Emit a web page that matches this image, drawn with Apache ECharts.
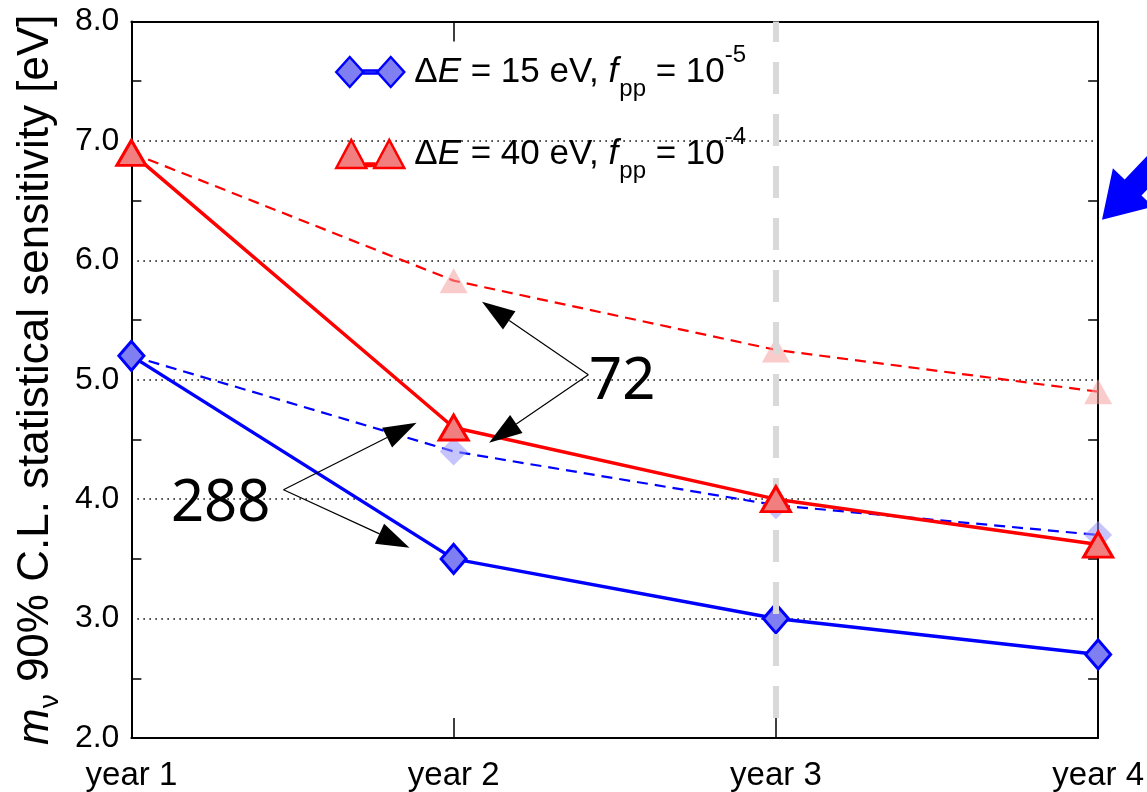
<!DOCTYPE html>
<html>
<head>
<meta charset="utf-8">
<script src="https://cdn.jsdelivr.net/npm/echarts@6/dist/echarts.min.js"></script>
<style>
  html, body { margin: 0; padding: 0; background: #ffffff; }
  #chart { width: 1147px; height: 792px; }
</style>
</head>
<body>
<div id="chart"></div>
<script>
// Measuring periods and their tick labels
const years = [1, 2, 3, 4];
const yearLabels = ['year 1', 'year 2', 'year 3', 'year 4'];

// 90% C.L. sensitivity on m_nu [eV]
const sens15 = [5.2, 3.5, 3.0, 2.7];      // dE = 15 eV, f_pp = 1e-5
const sens40 = [6.9, 4.6, 4.0, 3.62];     // dE = 40 eV, f_pp = 1e-4
const sens15Ref = [5.2, 4.4, 3.95, 3.7];  // dashed comparison, 15 eV
const sens40Ref = [6.9, 5.83, 5.25, 4.9]; // dashed comparison, 40 eV

const seriesNames = ['dE15', 'dE40'];
const detectorCounts = ['288', '72'];

const FONT = '"Liberation Sans", Arial, sans-serif';
const pairs = vals => years.map((x, i) => [x, vals[i]]);

const chart = echarts.init(document.getElementById('chart'), null, { renderer: 'canvas' });

const legendText = {
  dE15: '{g|Δ}{i|E}{t| = 15 eV, }{i|f}{sub|pp}{t| = 10}{sup|-5}',
  dE40: '{g|Δ}{i|E}{t| = 40 eV, }{i|f}{sub|pp}{t| = 10}{sup|-4}'
};

const option = {
  animation: false,
  backgroundColor: '#ffffff',
  grid: { left: 130, right: 44, top: 21.5, bottom: 53.5, containLabel: false },
  legend: {
    orient: 'vertical',
    left: 335,
    top: 43,
    padding: 0,
    itemGap: 24,
    itemWidth: 68,
    itemHeight: 30,
    selectedMode: false,
    data: [
      {
        name: 'dE15',
        icon: 'path://M0,15 L13.5,0 L27,15 L13.5,30 Z M41,15 L54.5,0 L68,15 L54.5,30 Z M27,13.5 L41,13.5 L41,16.5 L27,16.5 Z',
        itemStyle: { color: '#7f7ff2', borderColor: '#0000ff', borderWidth: 2.5 }
      },
      {
        name: 'dE40',
        icon: 'path://M0,28 L15,0 L30,28 Z M38,28 L53,0 L68,28 Z M30,23.5 L38,23.5 L38,26 L30,26 Z',
        itemStyle: { color: '#f27f7f', borderColor: '#ff0000', borderWidth: 2.5 }
      }
    ],
    formatter: name => legendText[name],
    textStyle: {
      fontFamily: FONT,
      fontSize: 35,
      color: '#000',
      lineHeight: 58,
      padding: [0, 0, 0, 5],
      rich: {
        t: { fontFamily: FONT, fontSize: 35, color: '#000' },
        g: { fontFamily: FONT, fontSize: 35, color: '#000' },
        i: { fontFamily: FONT, fontSize: 35, fontStyle: 'italic', color: '#000' },
        sub: { fontFamily: FONT, fontSize: 24, color: '#000', verticalAlign: 'bottom', lineHeight: 58, padding: [0, 0, 0, 1] },
        sup: { fontFamily: FONT, fontSize: 24, color: '#000', verticalAlign: 'top', lineHeight: 58 }
      }
    }
  },
  xAxis: [
    {
      type: 'value', min: 1, max: 4, interval: 1, position: 'bottom',
      axisLine: { show: true, onZero: false, lineStyle: { color: '#000', width: 2 } },
      axisTick: { show: true, inside: true, length: 20, lineStyle: { color: '#000', width: 1.5 } },
      axisLabel: {
        formatter: v => yearLabels[years.indexOf(v)] || '',
        fontFamily: FONT, fontSize: 33, color: '#000', margin: 21
      },
      splitLine: { show: false }
    },
    {
      type: 'value', min: 1, max: 4, interval: 1, position: 'top',
      axisLine: { show: true, onZero: false, lineStyle: { color: '#000', width: 2 } },
      axisTick: { show: true, inside: true, length: 20, lineStyle: { color: '#000', width: 1.5 } },
      axisLabel: { show: false },
      splitLine: { show: false }
    }
  ],
  yAxis: [
    {
      type: 'value', min: 2, max: 8, interval: 1, position: 'left',
      axisLine: { show: true, onZero: false, lineStyle: { color: '#000', width: 2 } },
      axisTick: { show: false, inside: true },
      minorTick: { show: true, splitNumber: 2, length: 10, lineStyle: { color: '#000', width: 1.5 } },
      axisLabel: {
        formatter: v => v.toFixed(1),
        fontFamily: FONT, fontSize: 32, color: '#000', margin: 12
      },
      splitLine: { show: true, lineStyle: { color: '#000', width: 1.5, type: [1.5, 4.5] } },
      name: '{i|m}{sub|ν}{t| 90% C.L. statistical sensitivity [eV]}',
      nameLocation: 'middle',
      nameRotate: 90,
      nameGap: 62,
      nameTextStyle: {
        fontFamily: FONT, fontSize: 44, color: '#000', lineHeight: 54,
        rich: {
          t: { fontFamily: FONT, fontSize: 44, color: '#000' },
          i: { fontFamily: FONT, fontSize: 44, fontStyle: 'italic', color: '#000' },
          sub: { fontFamily: FONT, fontSize: 28, color: '#000', verticalAlign: 'bottom', lineHeight: 56 }
        }
      }
    },
    {
      type: 'value', min: 2, max: 8, interval: 1, position: 'right',
      axisLine: { show: true, onZero: false, lineStyle: { color: '#000', width: 2 } },
      axisTick: { show: false, inside: true },
      minorTick: { show: true, splitNumber: 2, length: 10, lineStyle: { color: '#000', width: 1.5 } },
      axisLabel: { show: false },
      splitLine: { show: false }
    }
  ],
  series: [
    {
      name: 'dE40ref', type: 'line', z: 2, silent: true,
      data: pairs(sens40Ref),
      symbol: 'triangle', symbolSize: [28, 25],
      lineStyle: { color: '#ff0000', width: 2.2, type: [11, 7] },
      itemStyle: { color: 'rgba(246,160,160,0.55)', borderWidth: 0 }
    },
    {
      name: 'dE15ref', type: 'line', z: 2, silent: true,
      data: pairs(sens15Ref),
      symbol: 'diamond', symbolSize: [28, 28],
      lineStyle: { color: '#0000ff', width: 2.2, type: [11, 7] },
      itemStyle: { color: 'rgba(150,150,250,0.55)', borderWidth: 0 }
    },
    {
      name: 'dE15', type: 'line', z: 4, silent: true,
      data: pairs(sens15),
      symbol: 'diamond', symbolSize: [25, 29],
      lineStyle: { color: '#0000ff', width: 3.5 },
      itemStyle: { color: '#7f7ff2', borderColor: '#0000ff', borderWidth: 3 }
    },
    {
      name: 'dE40', type: 'line', z: 5, silent: true,
      data: pairs(sens40),
      symbol: 'triangle', symbolSize: [29, 25],
      lineStyle: { color: '#ff0000', width: 3.5 },
      itemStyle: { color: '#f27f7f', borderColor: '#ff0000', borderWidth: 3 }
    },
    {
      // grey dashed marker at year 3, drawn above all curves
      name: 'year3marker', type: 'line', z: 10, silent: true,
      data: [],
      markLine: {
        silent: true, symbol: 'none', animation: false,
        label: { show: false },
        lineStyle: { color: '#d9d9d9', width: 6, type: [32, 20], dashOffset: 32 },
        emphasis: { disabled: true },
        data: [[{ coord: [years[2], 2] }, { coord: [years[2], 8] }]]
      }
    }
  ]
};

chart.setOption(option);

// Annotations placed in data coordinates
const conv = p => chart.convertToPixel({ gridIndex: 0 }, p);

const notes = [
  { text: detectorCounts[1], at: [2.523, 4.975], from: [2.418, 5.042], to: [[2.088, 5.653], [2.110, 4.473]] },
  { text: detectorCounts[0], at: [1.277, 3.954], from: [1.472, 4.079], to: [[1.885, 4.640], [1.863, 3.594]] }
];

const graphics = [];
function addArrow(fromD, toD) {
  const a = conv(fromD), b = conv(toD);
  const dx = b[0] - a[0], dy = b[1] - a[1];
  const len = Math.hypot(dx, dy);
  const ux = dx / len, uy = dy / len;
  const headLen = 33, headHalf = 11;
  const bx = b[0] - ux * headLen, by = b[1] - uy * headLen;
  graphics.push({
    type: 'line', silent: true, z: 20,
    shape: { x1: a[0], y1: a[1], x2: bx, y2: by },
    style: { stroke: '#000', lineWidth: 1.2 }
  });
  graphics.push({
    type: 'polygon', silent: true, z: 20,
    shape: { points: [[b[0], b[1]], [bx - uy * headHalf, by + ux * headHalf], [bx + uy * headHalf, by - ux * headHalf]] },
    style: { fill: '#000' }
  });
}
notes.forEach(n => {
  const c = conv(n.at);
  graphics.push({
    type: 'text', silent: true, z: 20,
    x: c[0], y: c[1],
    style: {
      text: n.text, fill: '#000', font: '58px "Noto Sans", "Open Sans", sans-serif',
      align: 'center', verticalAlign: 'middle'
    }
  });
  n.to.forEach(t => addArrow(n.from, t));
});

// Large blue pointer at the right edge
(function () {
  const tip = conv([4.012, 6.339]);
  const ax = 0.69, ay = -0.72, px = -0.72, py = -0.69;
  const P = (along, side) => [tip[0] + ax * along + px * side, tip[1] + ay * along + py * side];
  graphics.push({
    type: 'polygon', silent: true, z: 20,
    shape: { points: [tip, P(45, 28), P(45, 11.7), P(260, 11.7), P(260, -11.7), P(45, -11.7), P(45, -28)] },
    style: { fill: '#0000ff' }
  });
})();

chart.setOption({ graphic: graphics });
</script>
</body>
</html>
